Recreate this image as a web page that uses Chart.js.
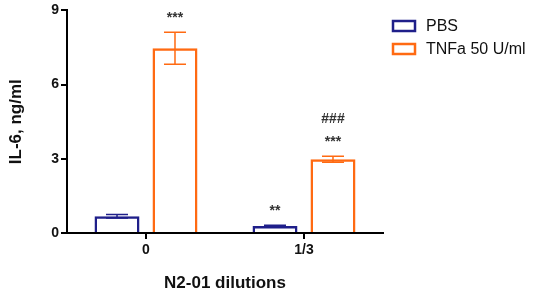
<!DOCTYPE html>
<html>
<head>
<meta charset="utf-8">
<script src="https://cdn.jsdelivr.net/npm/chart.js@4"></script>
<style>
  html, body { margin: 0; padding: 0; background: #fff; }
  #wrap { width: 533px; height: 290px; }
</style>
</head>
<body>
<div id="wrap"><canvas id="il6Chart" width="533" height="290"></canvas></div>
<script>
// data
const dilutions = ['0', '1/3'];
const pbsValues = [0.68, 0.28];
const pbsErrors = [0.07, 0.03];
const tnfValues = [7.47, 2.98];
const tnfErrors = [0.65, 0.12];
const pbsMarks = ['', '**'];
const tnfMarks = ['***', '***'];
const tnfMarks2 = ['', '###'];
const yTicks = [0, 3, 6, 9];

const navy = '#1f1f8a';
const orange = '#ff6a12';
const font = 'Liberation Sans, Arial, sans-serif';

// error bars + star labels
const errorBars = {
    id: 'errorBars',
    afterDatasetsDraw(chart) {
        const ctx = chart.ctx;
        const y = chart.scales.y;
        const errs = [pbsErrors, tnfErrors];
        const marks = [[pbsMarks], [tnfMarks, tnfMarks2]];
        chart.data.datasets.forEach((ds, di) => {
            const meta = chart.getDatasetMeta(di);
            meta.data.forEach((bar, i) => {
                const v = ds.data[i];
                const e = errs[di][i];
                const yHi = y.getPixelForValue(v + e);
                const yLo = y.getPixelForValue(v - e);
                ctx.save();
                ctx.strokeStyle = ds.borderColor;
                ctx.lineWidth = 1.5;
                ctx.beginPath();
                ctx.moveTo(bar.x, yHi); ctx.lineTo(bar.x, yLo);
                ctx.moveTo(bar.x - 11, yHi); ctx.lineTo(bar.x + 11, yHi);
                ctx.moveTo(bar.x - 11, yLo); ctx.lineTo(bar.x + 11, yLo);
                ctx.stroke();
                ctx.fillStyle = '#333';
                ctx.font = 'bold 14px ' + font;
                ctx.textAlign = 'center';
                ctx.textBaseline = 'middle';
                marks[di].forEach((m, k) => {
                    if (m[i]) ctx.fillText(m[i], bar.x, yHi - 14 - k * 23);
                });
                ctx.restore();
            });
        });
    }
};

// legend on the right
const sideLegend = {
    id: 'sideLegend',
    afterDraw(chart) {
        const ctx = chart.ctx;
        ctx.save();
        chart.data.datasets.forEach((ds, i) => {
            const top = 21 + i * 23;
            ctx.strokeStyle = ds.borderColor;
            ctx.lineWidth = 2.5;
            ctx.strokeRect(393, top, 22, 10);
            ctx.fillStyle = '#111';
            ctx.font = '16px ' + font;
            ctx.textBaseline = 'middle';
            ctx.fillText(ds.label, 426, top + 6);
        });
        ctx.restore();
    }
};

new Chart(document.getElementById('il6Chart').getContext('2d'), {
    type: 'bar',
    data: {
        labels: dilutions,
        datasets: [{
            label: 'PBS',
            data: pbsValues,
            backgroundColor: 'rgba(255,255,255,0)',
            borderColor: navy,
            borderWidth: 2.5,
            borderSkipped: 'bottom',
            categoryPercentage: 0.734,
            barPercentage: 0.776
        }, {
            label: 'TNFa 50 U/ml',
            data: tnfValues,
            backgroundColor: 'rgba(255,255,255,0)',
            borderColor: orange,
            borderWidth: 2.5,
            borderSkipped: 'bottom',
            categoryPercentage: 0.734,
            barPercentage: 0.776
        }]
    },
    options: {
        responsive: false,
        animation: false,
        layout: { padding: { top: 9, right: 150, left: 0, bottom: 0 } },
        plugins: { legend: { display: false }, tooltip: { enabled: false } },
        scales: {
            x: {
                grid: { drawOnChartArea: false, drawTicks: true, tickLength: 6, color: '#000', lineWidth: 2, offset: false },
                border: { color: '#000', width: 2 },
                ticks: { color: '#111', font: { family: font, size: 14, weight: 'bold' }, padding: 3 },
                title: { display: true, text: 'N2-01 dilutions', color: '#111', font: { family: font, size: 17, weight: 'bold' }, padding: { top: 20, bottom: -4 } },
                afterFit(scale) { scale.height = 57; }
            },
            y: {
                min: 0, max: 9,
                afterBuildTicks(scale) { scale.ticks = yTicks.map(v => ({ value: v })); },
                grid: { drawOnChartArea: false, drawTicks: true, tickLength: 6, color: '#000', lineWidth: 2 },
                border: { color: '#000', width: 2 },
                ticks: { color: '#111', font: { family: font, size: 14, weight: 'bold' }, padding: 2 },
                title: { display: true, text: 'IL-6, ng/ml', color: '#111', font: { family: font, size: 17, weight: 'bold' }, padding: { top: 6, bottom: 14 } },
                afterFit(scale) { scale.width = 67; }
            }
        }
    },
    plugins: [errorBars, sideLegend]
});
</script>
</body>
</html>
